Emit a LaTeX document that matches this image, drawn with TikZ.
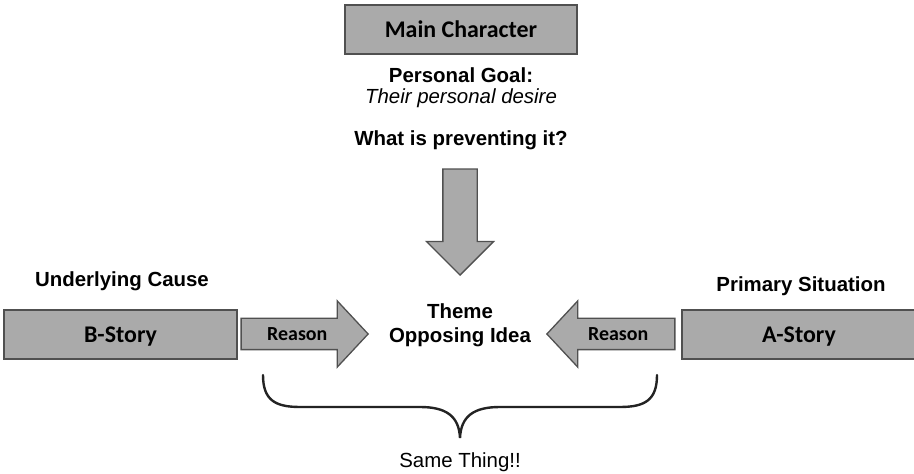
\documentclass[tikz,border=0pt]{standalone}
\usepackage{fontspec}
\setmainfont{Liberation Sans}
\newfontfamily\calibri{Carlito}
\usetikzlibrary{shapes.arrows, positioning}
\definecolor{boxgray}{RGB}{170,170,170}
\definecolor{edgegray}{RGB}{80,80,80}
\definecolor{bracegray}{RGB}{35,35,35}

\begin{document}
\begin{tikzpicture}[
  x=1bp, y=-1bp,
  every node/.style={font=\fontsize{20.5}{21}\selectfont, align=center, inner sep=0pt},
  box/.style     ={rectangle, draw=edgegray, line width=1.8bp, fill=boxgray,
                   minimum height=49bp, text height=15.5bp, text depth=0pt,
                   font=\calibri\bfseries\fontsize{24}{28}\selectfont},
  bigarrow/.style={single arrow, draw=edgegray, line width=1.3bp, fill=boxgray,
                   single arrow head extend=17.5bp, single arrow tip angle=94,
                   inner xsep=0pt, inner ysep=8.55bp, text height=12.9bp, text depth=0pt,
                   font=\calibri\bfseries\fontsize{20}{24}\selectfont},
  label/.style   ={font=\bfseries\fontsize{20.5}{21}\selectfont, anchor=base},
]
\useasboundingbox (0,0) rectangle (914,474);

% Top
\node[box, minimum width=232bp] (main) at (461,29.5) {Main Character};
\node[label] (goal) at (461,83) {Personal Goal:};
\node[anchor=base, font=\itshape\fontsize{20.5}{21}\selectfont] (desire) at (461,104) {Their personal desire};
\node[label] (prevent) at (461,146) {What is preventing it?};

% Down arrow
\node[bigarrow, rotate=-90, minimum height=106bp, inner ysep=16.5bp, text height=0pt,
      single arrow head extend=16.5bp, single arrow tip angle=90, anchor=tip] (down) at (460,276) {};

% Theme
\node[label] (theme) at (460,343) {Theme\\[4bp]Opposing Idea};

% Left side
\node[label] (cause) at (122,287) {Underlying Cause};
\node[box, minimum width=233bp] (bstory) at (120.5,334.5) {B-Story};
\node[bigarrow, minimum height=127bp, anchor=tip] (reasonL) at (369,334) {Reason};

% Right side
\node[label] (situation) at (801,292) {Primary Situation};
\node[box, minimum width=234bp] (astory) at (799,334.5) {A-Story};
\node[bigarrow, shape border rotate=180, minimum height=128bp, anchor=tip] (reasonR) at (546,334) {Reason};

% Brace
\coordinate (braceL) at (263,375);
\coordinate (braceR) at (657,375);
\coordinate (braceTip) at (460,438);
\draw[bracegray, line width=2.4bp, line cap=round]
  (braceL) .. controls (263,400) and (275,407) .. (300,407) -- (420,407)
  .. controls (446,407) and (459,416) .. (braceTip)
  .. controls (461,416) and (474,407) .. (500,407) -- (620,407)
  .. controls (645,407) and (657,400) .. (braceR);
\node[anchor=base, font=\fontsize{20.5}{21}\selectfont] (same) at (460,467) {Same Thing!!};

\end{tikzpicture}
\end{document}
